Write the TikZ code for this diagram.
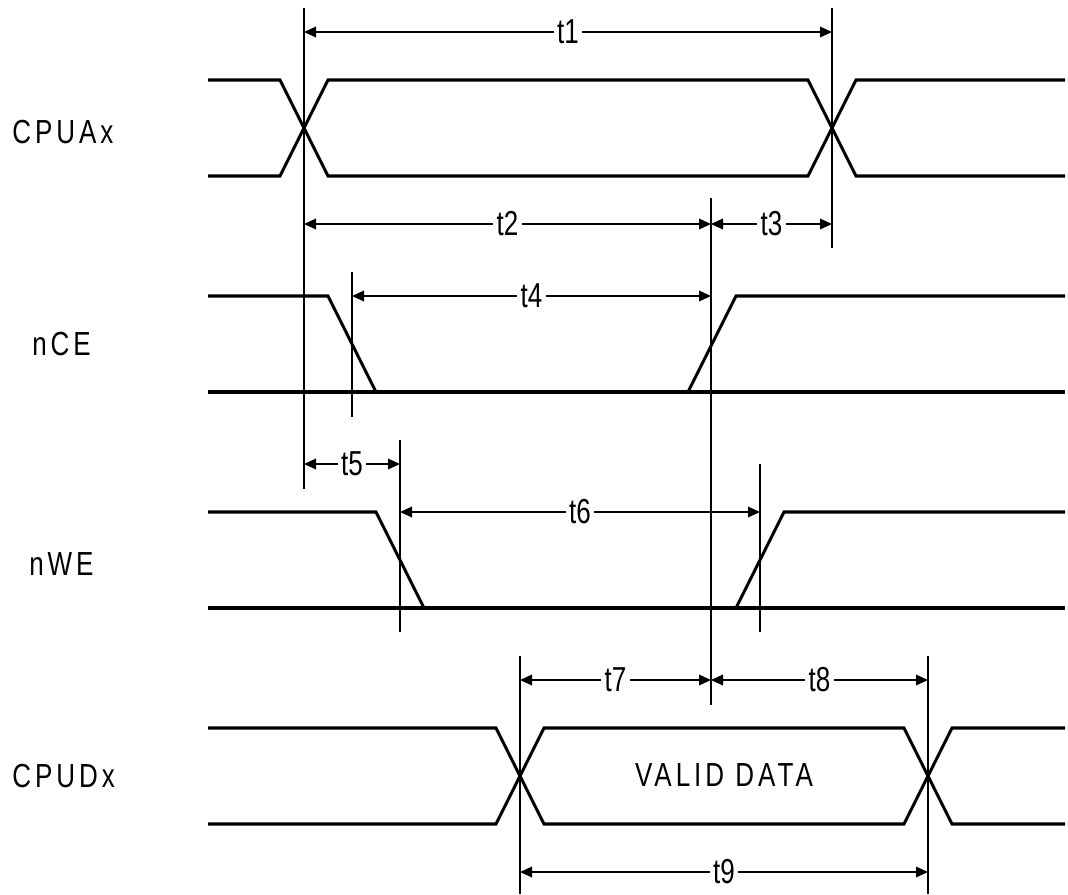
\documentclass[tikz,border=0pt]{standalone}
\usepackage{fontspec}
\setmainfont{Liberation Sans}
\newfontfamily\lblfont{Liberation Sans}[FakeStretch=0.78,LetterSpace=12]
\newfontfamily\tfont{Liberation Sans}[FakeStretch=0.75]
\usetikzlibrary{arrows.meta}
\begin{document}
\begin{tikzpicture}[x=0.75pt,y=-0.75pt,
  sig/.style={line width=2.3pt, line join=miter},
  guide/.style={line width=1.3pt},
  dim/.style={line width=1pt, {Triangle[length=9pt,width=8pt]}-{Triangle[length=9pt,width=8pt]}},
  tlabel/.style={fill=white, inner sep=2.5pt, font=\tfont\fontsize{26}{30}\selectfont},
  siglabel/.style={anchor=base west, inner sep=0pt, font=\lblfont\fontsize{25}{30}\selectfont}]
\useasboundingbox (0,0) rectangle (1068,894);

% signal labels
\node[siglabel] (lA) at (12,143) {CPUAx};
\node[siglabel] (lC) at (32,355) {nCE};
\node[siglabel] (lW) at (29,575) {nWE};
\node[siglabel] (lD) at (12,787) {CPUDx};

% CPUAx
\draw[sig] (208,80) -- (280,80) -- (328,176) -- (808,176) -- (856,80) -- (1065,80);
\draw[sig] (208,176) -- (280,176) -- (328,80) -- (808,80) -- (856,176) -- (1065,176);
% nCE
\draw[sig] (208,296) -- (328,296) -- (376,392);
\draw[sig] (208,392) -- (1065,392);
\draw[sig] (688,392) -- (736,296) -- (1065,296);
% nWE
\draw[sig] (208,512) -- (376,512) -- (424,608);
\draw[sig] (208,608) -- (1065,608);
\draw[sig] (736,608) -- (784,512) -- (1065,512);
% CPUDx
\draw[sig] (208,728) -- (496,728) -- (544,824) -- (904,824) -- (952,728) -- (1065,728);
\draw[sig] (208,824) -- (496,824) -- (544,728) -- (904,728) -- (952,824) -- (1065,824);
\node[font=\lblfont\fontsize{25}{30}\selectfont, inner sep=0pt, anchor=base] (vd) at (724,786) {VALID DATA};

% guide lines
\coordinate (gAt) at (304,8);   \coordinate (gAb) at (304,489);
\coordinate (gBt) at (832,8);   \coordinate (gBb) at (832,248);
\coordinate (gCt) at (711,198); \coordinate (gCb) at (711,705);
\coordinate (gDt) at (352,272); \coordinate (gDb) at (352,417);
\coordinate (gEt) at (400,440); \coordinate (gEb) at (400,632);
\coordinate (gFt) at (760,464); \coordinate (gFb) at (760,632);
\coordinate (gGt) at (520,656); \coordinate (gGb) at (520,894);
\coordinate (gHt) at (928,656); \coordinate (gHb) at (928,894);
\foreach \g in {A,B,C,D,E,F,G,H} \draw[guide] (g\g t) -- (g\g b);

% dimension arrows
\draw[dim] (gAt |- 0,32)  -- node[tlabel] (t1) {t1} (gBt |- 0,32);
\draw[dim] (gAt |- 0,224) -- node[tlabel] (t2) {t2} (gCt |- 0,224);
\draw[dim] (gCt |- 0,224) -- node[tlabel] (t3) {t3} (gBt |- 0,224);
\draw[dim] (gDt |- 0,296) -- node[tlabel] (t4) {t4} (gCt |- 0,296);
\draw[dim] (gAt |- 0,464) -- node[tlabel] (t5) {t5} (gEt |- 0,464);
\draw[dim] (gEt |- 0,512) -- node[tlabel] (t6) {t6} (gFt |- 0,512);
\draw[dim] (gGt |- 0,680) -- node[tlabel] (t7) {t7} (gCt |- 0,680);
\draw[dim] (gCt |- 0,680) -- node[tlabel] (t8) {t8} (gHt |- 0,680);
\draw[dim] (gGt |- 0,872) -- node[tlabel] (t9) {t9} (gHt |- 0,872);
\end{tikzpicture}
\end{document}
